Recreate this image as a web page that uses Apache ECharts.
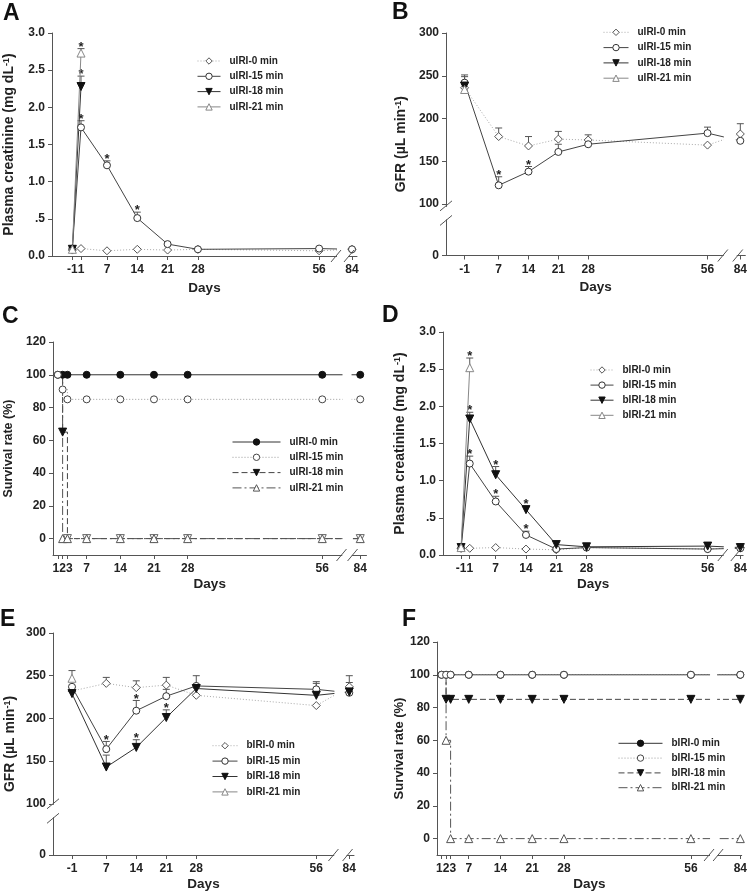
<!DOCTYPE html>
<html><head><meta charset="utf-8">
<script src="https://cdn.jsdelivr.net/npm/echarts@6/dist/echarts.min.js"></script>
<style>html,body{margin:0;padding:0;background:#fff}#c{width:750px;height:893px}</style>
</head><body><div id="c"></div>
<script>
// ================= DATA =================
const groups = ['0 min', '15 min', '18 min', '21 min'];
const daysCr = [-1, 1, 7, 14, 21, 28, 56, 84];
const daysGfr = [-1, 7, 14, 21, 28, 56, 84];
const daysSurv = [1, 2, 3, 7, 14, 21, 28, 56, 84];
const xLabCr = ['-1', '1', '7', '14', '21', '28', '56', '84'];
const xLabGfr = ['-1', '7', '14', '21', '28', '56', '84'];
const xLabSurv = ['1', '2', '3', '7', '14', '21', '28', '56', '84'];

// y tick values / labels
const yTickCr = [0, 0.5, 1.0, 1.5, 2.0, 2.5, 3.0];
const yLabCr = ['0.0', '.5', '1.0', '1.5', '2.0', '2.5', '3.0'];
const yTickGfr = [0, 100, 150, 200, 250, 300];
const yLabGfr = ['0', '100', '150', '200', '250', '300'];
const yTickSurv = [0, 20, 40, 60, 80, 100, 120];
const yLabSurv = ['0', '20', '40', '60', '80', '100', '120'];

// A: uIRI plasma creatinine (mg/dL)
const crU0  = [0.08, 0.10, 0.07, 0.09, 0.08, 0.09, 0.07, 0.09];
const crU15 = [0.10, 1.73, 1.22, 0.51, 0.16, 0.09, 0.10, 0.09];
const crU18 = [0.09, 2.28, null, null, null, null, null, null];
const crU21 = [0.09, 2.73, null, null, null, null, null, null];
const crU15Err = [null, 1.82, 1.28, 0.59, null, null, null, null];
const crU18Err = [null, 2.42, null, null, null, null, null, null];
const crU21Err = [null, 2.79, null, null, null, null, null, null];
const crU15Sig = [0, 1, 1, 1, 0, 0, 0, 0];
const crU18Sig = [0, 1, 0, 0, 0, 0, 0, 0];
const crU21Sig = [0, 1, 0, 0, 0, 0, 0, 0];

// B: uIRI GFR (uL/min)
const gfrU0  = [236, 179, 168, 176, 175, 169, 182];
const gfrU15 = [242, 122, 138, 161, 170, 183, 174];
const gfrU18 = [238, null, null, null, null, null, null];
const gfrU21 = [234, null, null, null, null, null, null];
const gfrU0Err  = [null, 189, 179, 185, 181, null, 194];
const gfrU15Err = [251, 132, 144, 170, null, 190, null];
const gfrU18Err = [249, null, null, null, null, null, null];
const gfrU15Sig = [0, 1, 1, 0, 0, 0, 0];

// C: uIRI survival (%)
const svU0  = [100, 100, 100, 100, 100, 100, 100, 100, 100];
const svU15 = [100, 91, 85, 85, 85, 85, 85, 85, 85];
const svU18 = [100, 65, 0, 0, 0, 0, 0, 0, 0];
const svU21 = [100, 0, 0, 0, 0, 0, 0, 0, 0];

// D: bIRI plasma creatinine (mg/dL)
const crB0  = [0.09, 0.09, 0.10, 0.08, 0.07, 0.10, 0.08, 0.10];
const crB15 = [0.09, 1.23, 0.72, 0.27, 0.08, 0.10, 0.08, 0.09];
const crB18 = [0.10, 1.83, 1.08, 0.61, 0.14, 0.11, 0.12, 0.10];
const crB21 = [0.10, 2.52, null, null, null, null, null, null];
const crB15Err = [null, 1.33, 0.79, 0.32, null, null, null, null];
const crB18Err = [null, 1.92, 1.19, 0.66, null, null, null, null];
const crB21Err = [null, 2.65, null, null, null, null, null, null];
const crB15Sig = [0, 1, 1, 1, 0, 0, 0, 0];
const crB18Sig = [0, 1, 1, 1, 0, 0, 0, 0];
const crB21Sig = [0, 1, 0, 0, 0, 0, 0, 0];

// E: bIRI GFR (uL/min)
const gfrB0  = [232, 241, 236, 239, 227, 215, 237];
const gfrB15 = [237, 164, 209, 226, 238, 234, 230];
const gfrB18 = [229, 143, 166, 201, 235, 227, 231];
const gfrB21 = [247, null, null, null, null, null, null];
const gfrB0Err  = [null, 248, 244, 248, null, null, 250];
const gfrB15Err = [null, 173, 221, 234, 250, 243, 242];
const gfrB18Err = [null, 157, 175, 210, null, 241, null];
const gfrB21Err = [256, null, null, null, null, null, null];
const gfrB15Sig = [0, 1, 1, 0, 0, 0, 0];
const gfrB18Sig = [0, 1, 1, 1, 0, 0, 0];

// F: bIRI survival (%)
const svB0  = [100, 100, 100, 100, 100, 100, 100, 100, 100];
const svB15 = [100, 100, 100, 100, 100, 100, 100, 100, 100];
const svB18 = [100, 85, 85, 85, 85, 85, 85, 85, 85];
const svB21 = [100, 60, 0, 0, 0, 0, 0, 0, 0];

// ================= LAYOUT / STYLE =================
const FF = 'Liberation Sans';
const GFR_SHIFT = 40; // compressed 0-100 segment of broken GFR axis
const styleCurve = {
  '0 min':  {symbol: 'diamond', size: 8, rot: 0, fill: '#fff', border: '#555', line: '#aaa', type: [1, 2]},
  '15 min': {symbol: 'circle', size: 7, rot: 0, fill: '#fff', border: '#333', line: '#444', type: 'solid'},
  '18 min': {symbol: 'triangle', size: 8, rot: 180, fill: '#111', border: '#111', line: '#333', type: 'solid'},
  '21 min': {symbol: 'triangle', size: 8, rot: 0, fill: '#fff', border: '#888', line: '#888', type: 'solid'}
};
const styleSurv = {
  '0 min':  {symbol: 'circle', size: 7, rot: 0, fill: '#111', border: '#111', line: '#333', type: 'solid'},
  '15 min': {symbol: 'circle', size: 7, rot: 0, fill: '#fff', border: '#444', line: '#999', type: [1, 2]},
  '18 min': {symbol: 'triangle', size: 8, rot: 180, fill: '#111', border: '#111', line: '#444', type: [6, 3]},
  '21 min': {symbol: 'triangle', size: 8, rot: 0, fill: '#fff', border: '#555', line: '#555', type: [9, 3, 2, 3]}
};

const P = [
  {key: 'A', kind: 'cr', prefix: 'uIRI', days: daysCr, xlab: xLabCr,
   vals: [crU0, crU15, crU18, crU21], errs: [null, crU15Err, crU18Err, crU21Err], sigs: [null, crU15Sig, crU18Sig, crU21Sig],
   grid: {left: 52, top: 33, width: 305, height: 223}, xr: [-5.7, 64.75], p84: 63.6, xbrk: [59.9, 62.9], ybrk: null,
   leg: {left: 197, top: 56, w: 23, gap: 5.3}, yGap: 36, ySize: 14, xGap: 25, letter: ['A', 3, 13.3]},
  {key: 'B', kind: 'gfr', prefix: 'uIRI', days: daysGfr, xlab: xLabGfr,
   vals: [gfrU0, gfrU15, gfrU18, gfrU21], errs: [gfrU0Err, gfrU15Err, gfrU18Err, null], sigs: [null, gfrU15Sig, null, null],
   grid: {left: 446, top: 33, width: 301, height: 222.5}, xr: [-5.36, 64.87], p84: 63.7, xbrk: [59.6, 63.1], ybrk: [41, 58],
   leg: {left: 603, top: 27.3, w: 25, gap: 5.3}, yGap: 38, ySize: 14, xGap: 25, letter: ['B', 392, 12.5]},
  {key: 'C', kind: 'surv', prefix: 'uIRI', days: daysSurv, xlab: xLabSurv,
   vals: [svU0, svU15, svU18, svU21], errs: [], sigs: [],
   grid: {left: 53, top: 342, width: 313.5, height: 213}, xr: [0, 65.2], p84: 63.9, xbrk: [60.0, 62.3], ybrk: null,
   leg: {left: 232, top: 437, w: 48, gap: 5.3}, yGap: 38, ySize: 12.5, xGap: 22, letter: ['C', 2, 317]},
  {key: 'D', kind: 'cr', prefix: 'bIRI', days: daysCr, xlab: xLabCr,
   vals: [crB0, crB15, crB18, crB21], errs: [null, crB15Err, crB18Err, crB21Err], sigs: [null, crB15Sig, crB18Sig, crB21Sig],
   grid: {left: 443, top: 332, width: 302, height: 223}, xr: [-5.18, 64.2], p84: 63.55, xbrk: [59.5, 62.5], ybrk: null,
   leg: {left: 590, top: 365, w: 23, gap: 5.1}, yGap: 36, ySize: 14, xGap: 22, letter: ['D', 382, 316]},
  {key: 'E', kind: 'gfr', prefix: 'bIRI', days: daysGfr, xlab: xLabGfr,
   vals: [gfrB0, gfrB15, gfrB18, gfrB21], errs: [gfrB0Err, gfrB15Err, gfrB18Err, gfrB21Err], sigs: [null, gfrB15Sig, gfrB18Sig, null],
   grid: {left: 53, top: 633, width: 301, height: 222}, xr: [-5.43, 64.8], p84: 63.7, xbrk: [60.0, 63.3], ybrk: [43, 60],
   leg: {left: 212, top: 740.7, w: 25, gap: 5.4}, yGap: 36, ySize: 14, xGap: 22, letter: ['E', 0, 620]},
  {key: 'F', kind: 'surv', prefix: 'bIRI', days: daysSurv, xlab: xLabSurv,
   vals: [svB0, svB15, svB18, svB21], errs: [], sigs: [],
   grid: {left: 437, top: 642, width: 305, height: 213}, xr: [0, 67.2], p84: 66.9, xbrk: [60.0, 62.0], ybrk: null,
   leg: {left: 618, top: 738.3, w: 44, gap: 4.8}, yGap: 29, ySize: 13, xGap: 22, letter: ['F', 402, 619.5]}
];

const yNames = {
  cr: '{t|Plasma creatinine (mg dL}{s|-1}{t|)}',
  gfr: '{t|GFR (µL min}{s|-1}{t|)}',
  surv: '{t|Survival rate (%)}'
};

function lookup(values, labels) {
  return function (v) {
    let bi = 0, bd = Infinity;
    values.forEach((x, i) => { const d = Math.abs(x - v); if (d < bd) { bd = d; bi = i; } });
    return bd < 1e-6 ? labels[bi] : '';
  };
}

const AX = '#555';
function errRender(params, api) {
  const x = api.value(0), y = api.value(1), t = api.value(2), sig = api.value(3);
  const p = api.coord([x, y]), q = api.coord([x, t]);
  const ch = [
    {type: 'line', shape: {x1: p[0], y1: p[1], x2: q[0], y2: q[1]}, style: {stroke: '#555', lineWidth: 1}},
    {type: 'line', shape: {x1: q[0] - 3.5, y1: q[1], x2: q[0] + 3.5, y2: q[1]}, style: {stroke: '#555', lineWidth: 1}}
  ];
  if (sig) ch.push({type: 'text', style: {text: '*', x: q[0], y: q[1] - 1.5, align: 'center', verticalAlign: 'middle',
    font: 'bold 13px "' + FF + '"', fill: '#222'}});
  return {type: 'group', children: ch};
}
function brkXRender(params, api) {
  const x1 = api.value(0), x2 = api.value(1), ylo = api.value(2), yhi = api.value(3), p84 = api.value(4);
  const a = api.coord([x1, ylo]), b = api.coord([x2, yhi]);
  const c84 = api.coord([p84, ylo]);
  const right = Math.min(b[0] - 1, c84[0] - 4.5);
  return {type: 'group', children: [
    {type: 'rect', shape: {x: a[0] + 1, y: b[1], width: right - a[0] - 1, height: a[1] - b[1] + 1.5}, style: {fill: '#fff'}},
    {type: 'rect', shape: {x: a[0] + 1, y: a[1] - 2, width: b[0] - a[0] - 2, height: 3.5}, style: {fill: '#fff'}},
    {type: 'line', shape: {x1: a[0] - 5, y1: a[1] + 6, x2: a[0] + 5, y2: a[1] - 6}, style: {stroke: AX, lineWidth: 1}},
    {type: 'line', shape: {x1: b[0] - 5, y1: a[1] + 6, x2: b[0] + 5, y2: a[1] - 6}, style: {stroke: AX, lineWidth: 1}}
  ]};
}
function brkYRender(params, api) {
  const x = api.value(0), ylo = api.value(1), yhi = api.value(2);
  const a = api.coord([x, ylo]), b = api.coord([x, yhi]);
  return {type: 'group', children: [
    {type: 'rect', shape: {x: a[0] - 2, y: b[1] + 1, width: 4, height: a[1] - b[1] - 2}, style: {fill: '#fff'}},
    {type: 'line', shape: {x1: a[0] - 6, y1: a[1] + 5, x2: a[0] + 6, y2: a[1] - 5}, style: {stroke: AX, lineWidth: 1}},
    {type: 'line', shape: {x1: b[0] - 6, y1: b[1] + 5, x2: b[0] + 6, y2: b[1] - 5}, style: {stroke: AX, lineWidth: 1}}
  ]};
}

// Labels of ticks closer than a glyph are merged into one text (as they print crammed together)
function mergeClose(pos, labs, minGap) {
  const outPos = [], outLab = [];
  let k = 0;
  while (k < pos.length) {
    let j = k;
    while (j + 1 < pos.length && pos[j + 1] - pos[j] < minGap) j++;
    if (j > k + 1) {
      outPos.push(pos[Math.floor((k + j) / 2)]);
      outLab.push(labs.slice(k, j + 1).join(''));
    } else {
      for (let m = k; m <= j; m++) { outPos.push(pos[m]); outLab.push(labs[m]); }
    }
    k = j + 1;
  }
  return [outPos, outLab];
}

const grids = [], xAxes = [], yAxes = [], series = [], legends = [], graphics = [];
const tickFont = {color: '#222', fontFamily: FF, fontWeight: 'bold', fontSize: 12};

P.forEach((p, i) => {
  const isSurv = p.kind === 'surv';
  const st = isSurv ? styleSurv : styleCurve;
  const pos = d => (d === 84 ? p.p84 : d);
  const ymap = p.kind === 'gfr' ? (v => (v > 0 ? v - GFR_SHIFT : v)) : (v => v);
  const yr = p.kind === 'cr' ? [0, 3] : p.kind === 'gfr' ? [0, 260] : [-10, 120];
  const yT = p.kind === 'cr' ? yTickCr : p.kind === 'gfr' ? yTickGfr : yTickSurv;
  const yL = p.kind === 'cr' ? yLabCr : p.kind === 'gfr' ? yLabGfr : yLabSurv;
  const yPos = yT.map(ymap);
  const xPos = p.days.map(pos);
  const [xLabPos, xLabTxt] = mergeClose(xPos, p.xlab, 1.5);

  grids.push(Object.assign({containLabel: false}, p.grid));
  xAxes.push({
    gridIndex: i, type: 'value', min: p.xr[0], max: p.xr[1],
    axisLine: {show: true, onZero: false, lineStyle: {color: AX, width: 1}},
    axisTick: {show: true, customValues: xPos, length: 4, lineStyle: {color: AX}},
    axisLabel: Object.assign({customValues: xLabPos, formatter: lookup(xLabPos, xLabTxt), margin: 8, hideOverlap: false,
      showMinLabel: true, showMaxLabel: true}, tickFont),
    splitLine: {show: false},
    name: 'Days', nameLocation: 'middle', nameGap: p.xGap,
    nameTextStyle: {color: '#222', fontFamily: FF, fontWeight: 'bold', fontSize: 13.5}
  });
  yAxes.push({
    gridIndex: i, type: 'value', min: yr[0], max: yr[1],
    axisLine: {show: true, onZero: false, lineStyle: {color: AX, width: 1}},
    axisTick: {show: true, customValues: yPos, length: 4, lineStyle: {color: AX}},
    axisLabel: Object.assign({customValues: yPos, formatter: lookup(yPos, yL), margin: 7,
      showMinLabel: true, showMaxLabel: true}, tickFont),
    splitLine: {show: false},
    name: yNames[p.kind], nameLocation: 'middle', nameGap: p.yGap, nameRotate: 90,
    nameTextStyle: {color: '#222', fontFamily: FF, fontWeight: 'bold', fontSize: p.ySize,
      rich: {
        t: {color: '#222', fontFamily: FF, fontWeight: 'bold', fontSize: p.ySize},
        s: {color: '#222', fontFamily: FF, fontWeight: 'bold', fontSize: 9, verticalAlign: 'top'}
      }}
  });

  // error bars (drawn under the markers)
  p.errs.forEach((err, g) => {
    if (!err) return;
    const data = [];
    p.days.forEach((d, k) => {
      if (err[k] == null || p.vals[g][k] == null) return;
      data.push([pos(d), ymap(p.vals[g][k]), ymap(err[k]), p.sigs[g] ? p.sigs[g][k] : 0]);
    });
    series.push({type: 'custom', xAxisIndex: i, yAxisIndex: i, renderItem: errRender, data: data, z: 1, silent: true,
      encode: {x: 0, y: [1, 2]}, clip: false});
  });

  const names = [];
  groups.forEach((g, gi) => {
    const s = st[g];
    const name = p.key + '|' + p.prefix + '-' + g;
    names.push(name);
    const data = [];
    p.days.forEach((d, k) => {
      const v = p.vals[gi][k];
      if (v == null) return;
      const item = {value: [pos(d), ymap(v)]};
      if (isSurv && gi >= 2 && k === 0) item.symbol = 'none';
      if (isSurv && gi === 2 && v === 0) item.itemStyle = {color: '#fff', borderColor: '#666'};
      data.push(item);
    });
    series.push({
      type: 'line', name: name, xAxisIndex: i, yAxisIndex: i, data: data,
      symbol: s.symbol, symbolSize: s.size, symbolRotate: s.rot, showAllSymbol: true,
      step: isSurv ? 'end' : false,
      lineStyle: {color: s.line, width: 1, type: s.type},
      itemStyle: {color: s.fill, borderColor: s.border, borderWidth: 1},
      emphasis: {disabled: true}, z: 2
    });
  });

  // broken x axis between 56 and 84
  series.push({type: 'custom', xAxisIndex: i, yAxisIndex: i, renderItem: brkXRender, z: 3, silent: true, clip: false,
    encode: {x: [0, 1], y: [2, 3]}, data: [[p.xbrk[0], p.xbrk[1], yr[0], yr[1], p.p84]]});
  if (p.ybrk) {
    series.push({type: 'custom', xAxisIndex: i, yAxisIndex: i, renderItem: brkYRender, z: 3, silent: true, clip: false,
      encode: {x: 0, y: [1, 2]}, data: [[p.xr[0], p.ybrk[0], p.ybrk[1]]]});
  }

  legends.push({
    orient: 'vertical', left: p.leg.left, top: p.leg.top, itemWidth: p.leg.w, itemHeight: 8, itemGap: p.leg.gap,
    padding: 0, data: names, formatter: n => n.split('|')[1], selectedMode: false, z: 10,
    itemStyle: {borderWidth: 1}, lineStyle: {width: 1},
    textStyle: {color: '#222', fontFamily: FF, fontWeight: 'bold', fontSize: 10, padding: [0, 0, 0, 4]}
  });

  graphics.push({type: 'text', x: p.letter[1], y: p.letter[2], silent: true,
    style: {text: p.letter[0], font: 'bold 23px "' + FF + '"', fill: '#111', verticalAlign: 'middle'}});
});

const chart = echarts.init(document.getElementById('c'));
chart.setOption({
  animation: false,
  backgroundColor: '#fff',
  grid: grids, xAxis: xAxes, yAxis: yAxes, series: series, legend: legends, graphic: graphics
});
</script>
</body></html>
